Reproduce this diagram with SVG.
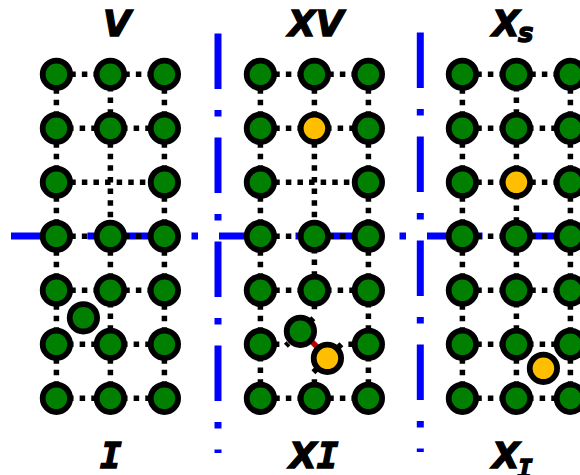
<svg xmlns="http://www.w3.org/2000/svg" width="580" height="475" viewBox="0 0 580 475">
<style>
.t{font-family:"DejaVu Sans",sans-serif;font-weight:700;font-style:italic;font-size:36px;fill:#000;stroke:#000;stroke-width:1.3}
.s{font-size:26px}
.m{font-family:"DejaVu Sans Mono",monospace;font-weight:700;font-style:italic}
.b{fill:none;stroke:#00f;stroke-width:7;stroke-dasharray:55.5 21 6.5 21}
.p,.n,.k{fill:none;stroke:#000;stroke-width:5.5}
.p{stroke-dasharray:5.5 6.1;stroke-dashoffset:-2.25}
.n{stroke-dasharray:5.5 6.1;stroke-dashoffset:-.05}
.r{fill:none;stroke:#c00000;stroke-width:5.5}
circle{stroke:#000;stroke-width:5.8}
.g{fill:#007f00}
.y{fill:#ffbf00}
</style>
<g id="axes">
<path class="b" d="M11 236H580"/>
<path class="b" d="M218 33.5V453"/>
<path class="b" d="M420.300 32.500V452"/>
</g>
<g transform="translate(.4 .3)">
<g id="connectors">
<path class="p" d="M56 74h54M110 74h54M56 236h54M110 236h54M56 290h54M110 290h54M56 182h108"/>
<path class="n" d="M56 128h54M110 128h54M56 344h54M110 344h54M56 398h54M110 398h54"/>
<path class="p" d="M56 74v54M56 128v54M56 182v54M56 236v54M56 290v54M56 344v54M110 128v108M110 236v54M110 344v54M164 74v54M164 128v54M164 182v54M164 236v54M164 290v54M164 344v54"/>
<path class="n" d="M110 74v54M110 290v54"/>
<path class="p" d="M260 74h54M314 74h54M260 128h54M260 236h54M314 236h54M260 290h54M260 398h54M314 398h54M260 182h108"/>
<path class="n" d="M314 128h54M314 290h54"/>
<path class="p" d="M260 74v54M260 128v54M260 182v54M260 236v54M260 290v54M314 74v54M314 128v108M368 74v54M368 128v54M368 182v54M368 236v54"/>
<path class="n" d="M260 344v54M314 236v54M368 290v54M368 344v54"/>
<path class="k" d="M275 344h4M348 344h5M309 322l4-4M288 343l-2.500 2.500M338 347l3-3M316 369l-3 3M314 379v4M314 305v4"/>
<path class="r" d="M311.500 341.500l5 5"/>
<path class="p" d="M462 74h54M516 74h54M462 128h54M462 182h54M516 182h54M462 236h54M516 236h54M462 290h54M516 290h54M462 344h54M462 398h54"/>
<path class="n" d="M516 128h54M516 344h54M516 398h54"/>
<path class="p" d="M462 74v54M462 128v54M462 182v54M462 236v54M462 290v54M462 344v54M516 128v54M516 236v54M516 344v54M570 74v54M570 128v54M570 182v54M570 236v54M570 290v54M570 344v54"/>
<path class="n" d="M516 74v54M516 182v54M516 290v54"/>
</g>
<g id="n-v-1-1"><circle class="g" cx="56" cy="74" r="13.700"/></g>
<g id="n-v-1-2"><circle class="g" cx="110" cy="74" r="13.700"/></g>
<g id="n-v-1-3"><circle class="g" cx="164" cy="74" r="13.700"/></g>
<g id="n-v-2-1"><circle class="g" cx="56" cy="128" r="13.700"/></g>
<g id="n-v-2-2"><circle class="g" cx="110" cy="128" r="13.700"/></g>
<g id="n-v-2-3"><circle class="g" cx="164" cy="128" r="13.700"/></g>
<g id="n-v-3-1"><circle class="g" cx="56" cy="182" r="13.700"/></g>
<g id="n-v-3-3"><circle class="g" cx="164" cy="182" r="13.700"/></g>
<g id="n-v-4-1"><circle class="g" cx="56" cy="236" r="13.700"/></g>
<g id="n-v-4-2"><circle class="g" cx="110" cy="236" r="13.700"/></g>
<g id="n-v-4-3"><circle class="g" cx="164" cy="236" r="13.700"/></g>
<g id="n-v-5-1"><circle class="g" cx="56" cy="290" r="13.700"/></g>
<g id="n-v-5-2"><circle class="g" cx="110" cy="290" r="13.700"/></g>
<g id="n-v-5-3"><circle class="g" cx="164" cy="290" r="13.700"/></g>
<g id="n-v-6-1"><circle class="g" cx="56" cy="344" r="13.700"/></g>
<g id="n-v-6-2"><circle class="g" cx="110" cy="344" r="13.700"/></g>
<g id="n-v-6-3"><circle class="g" cx="164" cy="344" r="13.700"/></g>
<g id="n-v-7-1"><circle class="g" cx="56" cy="398" r="13.700"/></g>
<g id="n-v-7-2"><circle class="g" cx="110" cy="398" r="13.700"/></g>
<g id="n-v-7-3"><circle class="g" cx="164" cy="398" r="13.700"/></g>
<g id="n-v-x"><circle class="g" cx="83" cy="317.500" r="13.700"/></g>
<g id="n-xv-1-1"><circle class="g" cx="260" cy="74" r="13.700"/></g>
<g id="n-xv-1-2"><circle class="g" cx="314" cy="74" r="13.700"/></g>
<g id="n-xv-1-3"><circle class="g" cx="368" cy="74" r="13.700"/></g>
<g id="n-xv-2-1"><circle class="g" cx="260" cy="128" r="13.700"/></g>
<g id="n-xv-2-2"><circle class="y" cx="314" cy="128" r="13.700"/></g>
<g id="n-xv-2-3"><circle class="g" cx="368" cy="128" r="13.700"/></g>
<g id="n-xv-3-1"><circle class="g" cx="260" cy="182" r="13.700"/></g>
<g id="n-xv-3-3"><circle class="g" cx="368" cy="182" r="13.700"/></g>
<g id="n-xv-4-1"><circle class="g" cx="260" cy="236" r="13.700"/></g>
<g id="n-xv-4-2"><circle class="g" cx="314" cy="236" r="13.700"/></g>
<g id="n-xv-4-3"><circle class="g" cx="368" cy="236" r="13.700"/></g>
<g id="n-xv-5-1"><circle class="g" cx="260" cy="290" r="13.700"/></g>
<g id="n-xv-5-2"><circle class="g" cx="314" cy="290" r="13.700"/></g>
<g id="n-xv-5-3"><circle class="g" cx="368" cy="290" r="13.700"/></g>
<g id="n-xv-6-1"><circle class="g" cx="260" cy="344" r="13.700"/></g>
<g id="n-xv-6-3"><circle class="g" cx="368" cy="344" r="13.700"/></g>
<g id="n-xv-7-1"><circle class="g" cx="260" cy="398" r="13.700"/></g>
<g id="n-xv-7-2"><circle class="g" cx="314" cy="398" r="13.700"/></g>
<g id="n-xv-7-3"><circle class="g" cx="368" cy="398" r="13.700"/></g>
<g id="n-xv-g"><circle class="g" cx="300" cy="331" r="13.700"/></g>
<g id="n-xv-y"><circle class="y" cx="327" cy="358" r="13.700"/></g>
<g id="n-xs-1-1"><circle class="g" cx="462" cy="74" r="13.700"/></g>
<g id="n-xs-1-2"><circle class="g" cx="516" cy="74" r="13.700"/></g>
<g id="n-xs-1-3"><circle class="g" cx="570" cy="74" r="13.700"/></g>
<g id="n-xs-2-1"><circle class="g" cx="462" cy="128" r="13.700"/></g>
<g id="n-xs-2-2"><circle class="g" cx="516" cy="128" r="13.700"/></g>
<g id="n-xs-2-3"><circle class="g" cx="570" cy="128" r="13.700"/></g>
<g id="n-xs-3-1"><circle class="g" cx="462" cy="182" r="13.700"/></g>
<g id="n-xs-3-2"><circle class="y" cx="516" cy="182" r="13.700"/></g>
<g id="n-xs-3-3"><circle class="g" cx="570" cy="182" r="13.700"/></g>
<g id="n-xs-4-1"><circle class="g" cx="462" cy="236" r="13.700"/></g>
<g id="n-xs-4-2"><circle class="g" cx="516" cy="236" r="13.700"/></g>
<g id="n-xs-4-3"><circle class="g" cx="570" cy="236" r="13.700"/></g>
<g id="n-xs-5-1"><circle class="g" cx="462" cy="290" r="13.700"/></g>
<g id="n-xs-5-2"><circle class="g" cx="516" cy="290" r="13.700"/></g>
<g id="n-xs-5-3"><circle class="g" cx="570" cy="290" r="13.700"/></g>
<g id="n-xs-6-1"><circle class="g" cx="462" cy="344" r="13.700"/></g>
<g id="n-xs-6-2"><circle class="g" cx="516" cy="344" r="13.700"/></g>
<g id="n-xs-6-3"><circle class="g" cx="570" cy="344" r="13.700"/></g>
<g id="n-xs-7-1"><circle class="g" cx="462" cy="398" r="13.700"/></g>
<g id="n-xs-7-2"><circle class="g" cx="516" cy="398" r="13.700"/></g>
<g id="n-xs-7-3"><circle class="g" cx="570" cy="398" r="13.700"/></g>
<g id="n-xs-y"><circle class="y" cx="543" cy="368" r="13.700"/></g>
</g>
<g id="labels">
<text class="t" x="103" y="36">V</text>
<text class="t" x="288" y="36">XV</text>
<text class="t" x="492" y="36">X</text>
<text class="t s" x="518" y="42">s</text>
<text class="t m" x="100" y="468">I</text>
<text class="t" x="289" y="468">X<tspan class="m">I</tspan></text>
<text class="t" x="492" y="468">X</text>
<text class="t s m" x="517" y="478">I</text>
</g>
</svg>
